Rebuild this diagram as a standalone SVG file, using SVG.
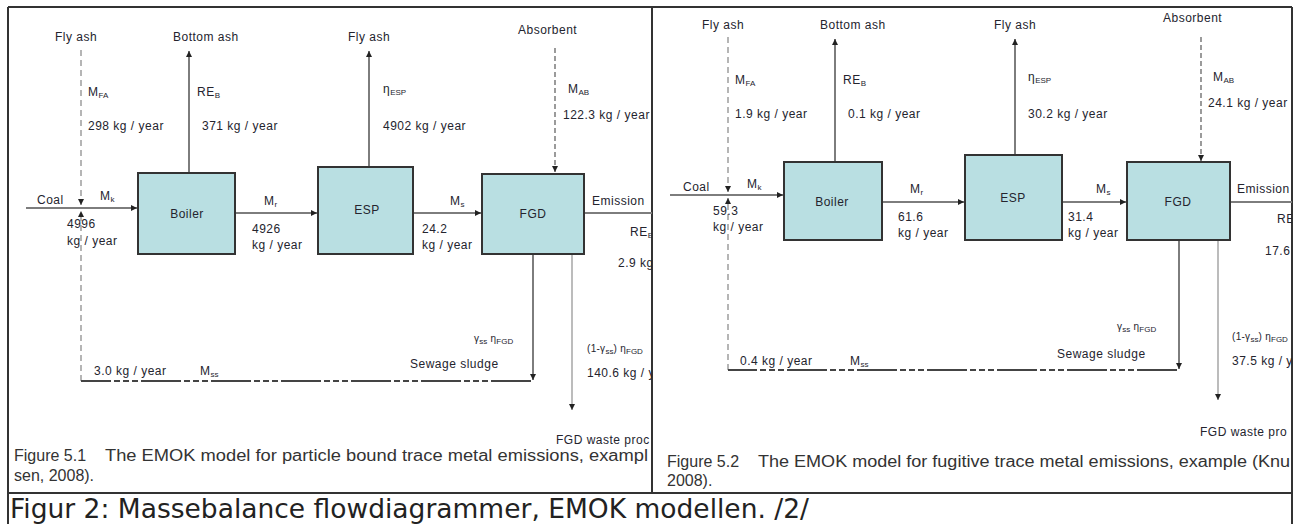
<svg xmlns="http://www.w3.org/2000/svg" width="1304" height="524" viewBox="0 0 1304 524">
<style>
.t{font-family:"Liberation Sans",Arial,sans-serif;font-size:12px;fill:#24242e;letter-spacing:0.5px}
.sm{font-size:10px;letter-spacing:0.3px}
.c{text-anchor:middle}
.s{font-size:8px;letter-spacing:0}
.box{fill:#b9dfe2;stroke:#333;stroke-width:2}
.ln{stroke:#7d7d7d;stroke-width:2;fill:none}
.lnl{stroke:#bcbcbc;stroke-width:2;fill:none}
.fa{stroke:#b5b5b5;stroke-width:2;fill:none;stroke-dasharray:6 4}
.ab{stroke:#666;stroke-width:1.3;fill:none;stroke-dasharray:5 3}
.ss{stroke:#444;stroke-width:2;fill:none;stroke-dasharray:40 3 6 3 6 3 6 3}
.cap{font-family:"Liberation Sans",Arial,sans-serif;font-size:16px;fill:#333}
.fig{font-family:"DejaVu Sans",Verdana,sans-serif;font-size:26.5px;fill:#222}
.frame{stroke:#333;stroke-width:2;fill:none}
</style>
<defs>
<marker id="ah" viewBox="0 0 6 6" refX="6" refY="3" markerWidth="6" markerHeight="6" markerUnits="userSpaceOnUse" orient="auto"><path d="M0,0 L6,3 L0,6 z" fill="#222"/></marker>
<clipPath id="cl"><rect x="8" y="7" width="644" height="486"/></clipPath>
<clipPath id="cr"><rect x="652" y="7" width="640" height="486"/></clipPath>
</defs>
<rect x="0" y="0" width="1304" height="524" fill="#fff"/>
<g id="table">
<path class="frame" d="M8,7 H1292 M8,7 V524 M1292,7 V524 M652,7 V493 M8,493 H1292"/>
</g>
<g id="connectors">
<g clip-path="url(#cl)">
<path class="ln" d="M26,208 H137" marker-end="url(#ah)"/>
<path class="fa" d="M81,50 V205" marker-end="url(#ah)"/>
<path class="fa" d="M81,381 V211" marker-end="url(#ah)"/>
<path class="ln" d="M189,173 V51" marker-end="url(#ah)"/>
<path class="ln" d="M369,167 V51" marker-end="url(#ah)"/>
<path class="ab" d="M555,48 V172" marker-end="url(#ah)"/>
<path class="ln" d="M235,213 H317" marker-end="url(#ah)"/>
<path class="ln" d="M413,213 H481" marker-end="url(#ah)"/>
<path class="ln" d="M584,213 H652"/>
<path class="ln" d="M533,254 V380" marker-end="url(#ah)"/>
<path class="ss" d="M531,381 H81"/>
<path class="lnl" d="M572,254 V410" marker-end="url(#ah)"/>
</g>
<g clip-path="url(#cr)">
<path class="ln" d="M670,195 H783" marker-end="url(#ah)"/>
<path class="fa" d="M728,37 V192" marker-end="url(#ah)"/>
<path class="fa" d="M728,370 V198" marker-end="url(#ah)"/>
<path class="ln" d="M835,162 V39" marker-end="url(#ah)"/>
<path class="ln" d="M1015,155 V39" marker-end="url(#ah)"/>
<path class="ab" d="M1201,37 V161" marker-end="url(#ah)"/>
<path class="ln" d="M882,202 H964" marker-end="url(#ah)"/>
<path class="ln" d="M1062,202 H1126" marker-end="url(#ah)"/>
<path class="ln" d="M1230,202 H1292"/>
<path class="ln" d="M1179,240 V369" marker-end="url(#ah)"/>
<path class="ss" d="M1177,370 H728"/>
<path class="lnl" d="M1218,240 V400" marker-end="url(#ah)"/>
</g>
</g>
<g id="fig51" clip-path="url(#cl)">
<g id="boiler1"><rect class="box" x="138" y="173" width="97" height="81"/><text class="t c" x="187" y="218">Boiler</text></g>
<g id="esp1"><rect class="box" x="318" y="167" width="95" height="87"/><text class="t c" x="367" y="214">ESP</text></g>
<g id="fgd1"><rect class="box" x="482" y="174" width="102" height="80"/><text class="t c" x="533" y="218">FGD</text></g>
<text class="t" x="55" y="41">Fly ash</text>
<text class="t" x="173" y="41">Bottom ash</text>
<text class="t" x="348" y="41">Fly ash</text>
<text class="t" x="518" y="34">Absorbent</text>
<text class="t" x="88" y="96">M<tspan class="s" dy="2">FA</tspan></text>
<text class="t" x="88" y="130">298 kg / year</text>
<text class="t" x="197" y="96">RE<tspan class="s" dy="2">B</tspan></text>
<text class="t" x="202" y="130">371 kg / year</text>
<text class="t" x="383" y="93">η<tspan class="s" dy="2">ESP</tspan></text>
<text class="t" x="383" y="130">4902 kg / year</text>
<text class="t" x="568" y="93">M<tspan class="s" dy="2">AB</tspan></text>
<text class="t" x="563" y="119">122.3 kg / year</text>
<text class="t" x="37" y="204">Coal</text>
<text class="t" x="100" y="200">M<tspan class="s" dy="2">k</tspan></text>
<text class="t" x="67" y="228">4996</text>
<text class="t" x="67" y="245">kg / year</text>
<text class="t" x="264" y="205">M<tspan class="s" dy="2">r</tspan></text>
<text class="t" x="252" y="233">4926</text>
<text class="t" x="252" y="249">kg / year</text>
<text class="t" x="450" y="205">M<tspan class="s" dy="2">s</tspan></text>
<text class="t" x="422" y="233">24.2</text>
<text class="t" x="422" y="249">kg / year</text>
<text class="t" x="592" y="205">Emission</text>
<text class="t" x="630" y="236">RE<tspan class="s" dy="2">E</tspan></text>
<text class="t" x="618" y="267">2.9 kg</text>
<text class="t sm" x="474" y="342">γ<tspan class="s" dy="2">ss</tspan><tspan dy="-2"> η</tspan><tspan class="s" dy="2">FGD</tspan></text>
<text class="t sm" x="587" y="352">(1-γ<tspan class="s" dy="2">ss</tspan><tspan dy="-2">) η</tspan><tspan class="s" dy="2">FGD</tspan></text>
<text class="t" x="410" y="368">Sewage sludge</text>
<text class="t" x="94" y="375">3.0 kg / year</text>
<text class="t" x="200" y="375">M<tspan class="s" dy="2">ss</tspan></text>
<text class="t" x="587" y="377">140.6 kg / y</text>
<text class="t" x="556" y="444">FGD waste proc</text>
<text class="cap" x="14" y="461">Figure 5.1</text>
<text class="cap" x="105" y="461" textLength="543" lengthAdjust="spacingAndGlyphs">The EMOK model for particle bound trace metal emissions, exampl</text>
<text class="cap" x="14" y="481">sen, 2008).</text>
</g>
<g id="fig52" clip-path="url(#cr)">
<g id="boiler2"><rect class="box" x="784" y="162" width="98" height="78"/><text class="t c" x="832" y="206">Boiler</text></g>
<g id="esp2"><rect class="box" x="965" y="155" width="97" height="85"/><text class="t c" x="1013" y="202">ESP</text></g>
<g id="fgd2"><rect class="box" x="1127" y="162" width="103" height="78"/><text class="t c" x="1178" y="206">FGD</text></g>
<text class="t" x="702" y="29">Fly ash</text>
<text class="t" x="820" y="29">Bottom ash</text>
<text class="t" x="994" y="29">Fly ash</text>
<text class="t" x="1163" y="22">Absorbent</text>
<text class="t" x="735" y="84">M<tspan class="s" dy="2">FA</tspan></text>
<text class="t" x="735" y="118">1.9 kg / year</text>
<text class="t" x="843" y="84">RE<tspan class="s" dy="2">B</tspan></text>
<text class="t" x="848" y="118">0.1 kg / year</text>
<text class="t" x="1028" y="81">η<tspan class="s" dy="2">ESP</tspan></text>
<text class="t" x="1028" y="118">30.2 kg / year</text>
<text class="t" x="1213" y="81">M<tspan class="s" dy="2">AB</tspan></text>
<text class="t" x="1208" y="107">24.1 kg / year</text>
<text class="t" x="683" y="191">Coal</text>
<text class="t" x="747" y="188">M<tspan class="s" dy="2">k</tspan></text>
<text class="t" x="713" y="215">59.3</text>
<text class="t" x="713" y="231">kg / year</text>
<text class="t" x="910" y="193">M<tspan class="s" dy="2">r</tspan></text>
<text class="t" x="898" y="221">61.6</text>
<text class="t" x="898" y="237">kg / year</text>
<text class="t" x="1096" y="193">M<tspan class="s" dy="2">s</tspan></text>
<text class="t" x="1068" y="221">31.4</text>
<text class="t" x="1068" y="237">kg / year</text>
<text class="t" x="1237" y="193">Emission</text>
<text class="t" x="1277" y="223">RE</text>
<text class="t" x="1265" y="255">17.6</text>
<text class="t sm" x="1117" y="330">γ<tspan class="s" dy="2">ss</tspan><tspan dy="-2"> η</tspan><tspan class="s" dy="2">FGD</tspan></text>
<text class="t sm" x="1232" y="340">(1-γ<tspan class="s" dy="2">ss</tspan><tspan dy="-2">) η</tspan><tspan class="s" dy="2">FGD</tspan></text>
<text class="t" x="1057" y="358">Sewage sludge</text>
<text class="t" x="740" y="365">0.4 kg / year</text>
<text class="t" x="850" y="365">M<tspan class="s" dy="2">ss</tspan></text>
<text class="t" x="1232" y="365">37.5 kg / y</text>
<text class="t" x="1200" y="436">FGD waste pro</text>
<text class="cap" x="667" y="467">Figure 5.2</text>
<text class="cap" x="758" y="467" textLength="532" lengthAdjust="spacingAndGlyphs">The EMOK model for fugitive trace metal emissions, example (Knu</text>
<text class="cap" x="667" y="486">2008).</text>
</g>
<g id="caption">
<text class="fig" x="10" y="518">Figur 2: Massebalance flowdiagrammer, EMOK modellen. /2/</text>
</g>
</svg>
